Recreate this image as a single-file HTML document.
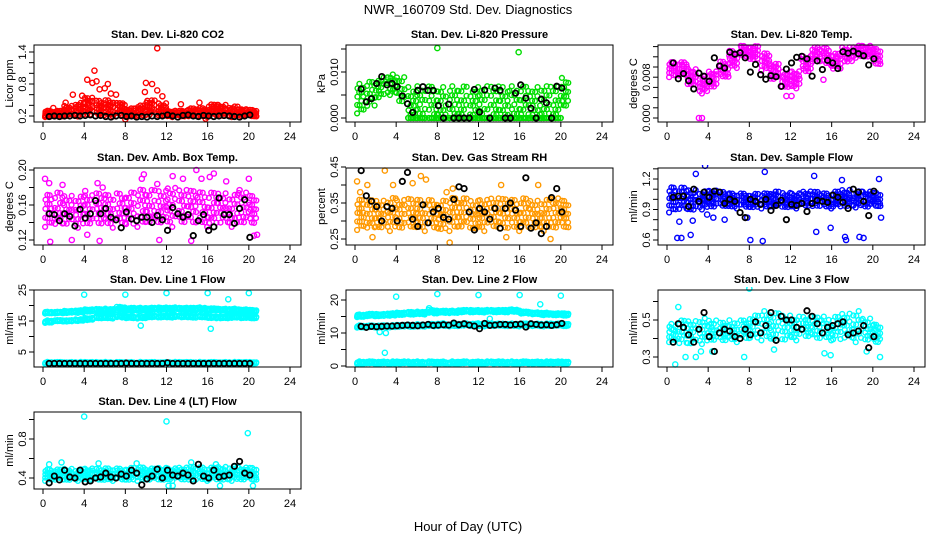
<!DOCTYPE html>
<html><head><meta charset="utf-8"><style>
html,body{margin:0;padding:0;background:#fff;}
svg{display:block;font-family:"Liberation Sans",sans-serif;}
</style></head><body>
<svg id="chart" width="936" height="540" viewBox="0 0 936 540">
<text x="468" y="14" text-anchor="middle" font-size="13">NWR_160709  Std. Dev. Diagnostics</text>
<text x="468" y="531" text-anchor="middle" font-size="13">Hour of Day (UTC)</text>
</svg>
<script>
// ---- data (hourly bins 0..20) ----
const hours = [0,1,2,3,4,5,6,7,8,9,10,11,12,13,14,15,16,17,18,19,20];
const blackHours = [0.6,1.1,1.6,2.1,2.6,3.1,3.6,4.1,4.6,5.1,5.6,6.1,6.6,7.1,7.6,8.1,8.6,9.1,9.6,10.1,10.6,11.1,11.6,12.1,12.6,13.1,13.6,14.1,14.6,15.1,15.6,16.1,16.6,17.1,17.6,18.1,18.6,19.1,19.6,20.1];

const co2Lo = [0.18,0.18,0.18,0.19,0.19,0.19,0.19,0.19,0.18,0.19,0.19,0.19,0.18,0.18,0.18,0.18,0.18,0.18,0.18,0.18,0.18];
const co2Hi = [0.30,0.30,0.40,0.45,0.55,0.50,0.50,0.45,0.35,0.40,0.50,0.45,0.30,0.30,0.35,0.35,0.42,0.42,0.38,0.33,0.32];
const co2OutX = [4.3,5.0,4.8,5.2,5.5,6.0,6.3,2.9,6.6,7.1,3.8,10.0,10.6,11.1,11.1,9.9,11.6,8.0,15.8,1.0,2.2,13.4,15.2];
const co2OutY = [0.88,1.05,0.82,0.85,0.70,0.72,0.80,0.60,0.62,0.60,0.58,0.82,0.80,0.68,1.47,0.65,0.57,0.14,0.15,0.35,0.45,0.42,0.45];
const co2Black = [0.19,0.20,0.19,0.20,0.20,0.21,0.20,0.21,0.22,0.20,0.21,0.19,0.18,0.20,0.21,0.19,0.20,0.18,0.19,0.18,0.20,0.19,0.20,0.22,0.20,0.18,0.21,0.22,0.20,0.19,0.21,0.20,0.19,0.20,0.21,0.20,0.19,0.18,0.20,0.22];

const presLo = [0.001,0.002,0.004,0.005,0.003,0.000,0.000,0.000,0.000,0.000,0.000,0.000,0.000,0.000,0.000,0.000,0.000,0.000,0.000,0.000,0.002];
const presHi = [0.0075,0.008,0.009,0.0095,0.009,0.007,0.007,0.007,0.007,0.007,0.007,0.007,0.007,0.007,0.007,0.007,0.007,0.007,0.007,0.007,0.009];
const presFloorLo = [null,null,null,null,null,0,0,0,0,0,0,0,0,0,0,0,0,0,0,0,null];
const presFloorHi = [null,null,null,null,null,0,0,0,0,0,0,0,0,0,0,0,0,0,0,0,null];
const presOutX = [8.0,15.9];
const presOutY = [0.0152,0.0143];
const presBlack = [0.0063,0.0035,0.0042,0.0075,0.009,0.0072,0.0075,0.0068,0.0048,0.0031,0.0012,0.006,0.0068,0.006,0.006,0.0027,0,0.003,0,0,0,0,0.0062,0.0013,0.0061,0,0.0065,0.006,0,0,0.0054,0.0072,0.0043,0.0021,0,0.0041,0.0033,0,0.0069,0.0065];

const tempLo = [0.0080,0.0080,0.0063,0.0048,0.0058,0.0078,0.0098,0.0118,0.0113,0.0093,0.0073,0.0058,0.0058,0.0088,0.0108,0.0103,0.0093,0.0108,0.0118,0.0118,0.0103];
const tempHi = [0.0110,0.0110,0.0097,0.0082,0.0092,0.0112,0.0132,0.0142,0.0142,0.0127,0.0107,0.0092,0.0092,0.0122,0.0140,0.0137,0.0127,0.0140,0.0142,0.0142,0.0137];
const tempOutX = [3.1,3.4,11.6,12.1,15.2];
const tempOutY = [0.0,0.0,0.0043,0.0043,0.0075];
const tempBlack = [0.0108,0.0077,0.0087,0.0073,0.0057,0.0088,0.0082,0.0072,0.0118,0.0102,0.0098,0.0129,0.0125,0.0128,0.0118,0.009,0.0105,0.0085,0.0076,0.0083,0.0081,0.0062,0.0096,0.0108,0.0119,0.0121,0.0116,0.0082,0.0112,0.0095,0.0113,0.0108,0.0097,0.013,0.0127,0.0131,0.0126,0.0122,0.0104,0.0116];

const ambLo = [0.135,0.134,0.135,0.134,0.135,0.135,0.134,0.135,0.134,0.135,0.136,0.136,0.135,0.136,0.136,0.135,0.135,0.136,0.135,0.136,0.136];
const ambHi = [0.172,0.175,0.172,0.170,0.172,0.175,0.172,0.174,0.176,0.178,0.178,0.178,0.180,0.178,0.178,0.175,0.175,0.175,0.172,0.175,0.172];
const ambOutX = [0.2,0.6,1.9,4.1,4.3,5.3,5.8,9.6,9.8,11.1,12.6,13.6,14.9,15.4,16.2,16.6,17.8,19.1,20.0,20.5,0.7,2.8,5.5,14.4,11.3,20.8];
const ambOutY = [0.19,0.185,0.183,0.176,0.126,0.185,0.18,0.19,0.195,0.184,0.193,0.19,0.2,0.19,0.192,0.196,0.187,0.177,0.19,0.125,0.118,0.12,0.119,0.119,0.12,0.126];
const ambBlack = [0.15,0.149,0.142,0.15,0.147,0.136,0.155,0.145,0.15,0.165,0.15,0.156,0.146,0.143,0.134,0.152,0.144,0.142,0.146,0.146,0.14,0.148,0.143,0.131,0.157,0.15,0.146,0.149,0.125,0.142,0.149,0.131,0.135,0.168,0.149,0.149,0.139,0.156,0.166,0.123];

const rhLo = [0.275,0.272,0.275,0.272,0.272,0.275,0.272,0.272,0.27,0.272,0.275,0.272,0.272,0.275,0.272,0.272,0.272,0.275,0.272,0.272,0.275];
const rhHi = [0.36,0.36,0.36,0.365,0.36,0.365,0.36,0.36,0.36,0.365,0.365,0.36,0.36,0.365,0.365,0.36,0.365,0.36,0.36,0.365,0.36];
const rhOutX = [0.2,0.5,2.9,3.7,5.6,6.4,6.9,9.2,14.2,17.8,1.7,9.5,14.7,19.0,1.2,8.9];
const rhOutY = [0.41,0.38,0.44,0.40,0.405,0.425,0.415,0.24,0.40,0.40,0.255,0.39,0.255,0.25,0.40,0.38];
const rhBlack = [0.44,0.37,0.355,0.34,0.3,0.34,0.335,0.3,0.41,0.435,0.305,0.285,0.345,0.295,0.325,0.335,0.31,0.305,0.36,0.395,0.39,0.325,0.275,0.335,0.325,0.305,0.335,0.28,0.335,0.35,0.33,0.285,0.42,0.28,0.295,0.265,0.285,0.365,0.39,0.325];

const flowLo = [0.87,0.88,0.88,0.90,0.91,0.92,0.91,0.91,0.91,0.91,0.91,0.91,0.91,0.92,0.92,0.91,0.91,0.92,0.92,0.91,0.92];
const flowHi = [1.12,1.12,1.10,1.08,1.09,1.08,1.06,1.06,1.06,1.06,1.08,1.07,1.06,1.08,1.08,1.06,1.08,1.10,1.08,1.08,1.07];
const flowOutX = [1.0,1.4,2.3,3.7,2.8,9.5,14.3,17.0,3.9,8.1,9.3,17.3,17.4,18.7,19.1,15.9,14.5,1.2,4.5,5.6,20.6,20.8,2.5,7.8];
const flowOutY = [0.62,0.62,0.65,1.33,1.25,1.27,1.23,1.19,0.85,0.60,0.59,0.63,0.60,0.63,0.62,0.72,0.68,0.78,0.82,0.80,1.20,0.82,0.79,0.82];
const flowBlack = [1.02,1.03,1.03,0.93,1.1,0.98,1.07,1.02,1.08,1.07,0.96,1.0,0.98,0.87,0.82,1.0,0.98,0.95,1.0,0.89,0.94,0.99,0.8,0.95,0.94,0.96,0.88,0.96,0.99,0.98,0.97,1.04,1.02,0.97,0.91,1.1,1.07,0.98,0.84,1.08];

const l1UpLo = [17.4,17.4,17.5,17.6,17.9,18.0,18.0,18.2,18.2,18.3,18.3,18.4,18.4,18.4,18.3,18.4,18.2,18.1,18.0,17.9,17.8];
const l1UpHi = [18.0,18.0,18.3,18.5,18.8,18.9,19.0,19.6,19.3,19.3,19.3,19.4,19.4,19.3,19.3,19.4,19.1,19.0,19.0,18.8,18.6];
const l1MidLo = [14.4,14.8,14.8,15.0,15.2,15.8,15.8,16.0,15.8,15.8,16.0,16.1,16.1,16.1,16.0,16.1,15.8,15.8,16.0,15.8,15.8];
const l1MidHi = [15.2,15.3,15.3,15.6,16.0,16.6,16.6,17.0,16.7,16.7,16.8,16.8,16.8,16.8,16.8,16.8,16.5,16.5,16.6,16.6,16.5];
const l1BotLo = [1.2,1.2,1.2,1.2,1.2,1.2,1.2,1.2,1.2,1.2,1.2,1.2,1.2,1.2,1.2,1.2,1.2,1.2,1.2,1.2,1.2];
const l1BotHi = [1.8,1.8,1.8,1.8,1.8,1.8,1.8,1.8,1.8,1.8,1.8,1.8,1.8,1.8,1.8,1.8,1.8,1.8,1.8,1.8,1.8];
const l1OutX = [4.0,8.0,12.0,16.0,20.0,18.0,9.5,16.3];
const l1OutY = [23.5,23.5,24.0,24.0,24.0,22.0,13.5,12.5];
const l1Black = [1.3,1.3,1.3,1.3,1.3,1.3,1.3,1.3,1.3,1.3,1.3,1.3,1.3,1.3,1.3,1.4,1.3,1.3,1.3,1.3,1.3,1.3,1.3,1.5,1.3,1.3,1.3,1.3,1.3,1.3,1.3,1.3,1.3,1.3,1.3,1.3,1.3,1.3,1.3,1.3];

const l2UpLo = [14.8,15.0,15.0,15.2,15.4,15.5,15.6,15.8,16.0,16.0,16.2,16.2,16.2,16.2,16.2,16.3,15.8,15.6,15.4,15.3,15.2];
const l2UpHi = [15.6,15.8,15.8,16.0,16.2,16.4,16.5,17.0,16.8,16.8,17.0,17.0,17.0,17.0,17.0,17.2,16.5,16.3,16.2,16.0,16.0];
const l2MidLo = [11.6,11.6,11.6,11.7,11.8,11.8,11.9,11.9,12.0,12.0,12.0,12.0,12.0,12.0,12.0,12.0,12.0,12.0,12.0,12.0,12.0];
const l2MidHi = [12.3,12.3,12.4,12.4,12.5,12.6,12.7,12.8,13.0,12.8,12.9,13.0,12.9,12.9,12.9,12.9,12.9,12.9,12.9,12.9,12.9];
const l2BotLo = [0.6,0.6,0.6,0.6,0.6,0.6,0.6,0.6,0.6,0.6,0.6,0.6,0.6,0.6,0.6,0.6,0.6,0.6,0.6,0.6,0.6];
const l2BotHi = [1.4,1.4,1.4,1.4,1.4,1.4,1.4,1.4,1.4,1.4,1.4,1.4,1.4,1.4,1.4,1.4,1.4,1.4,1.4,1.4,1.4];
const l2OutX = [4.0,8.0,12.0,16.0,20.0,18.0,2.9,2.4,3.0,13.1,7.2];
const l2OutY = [21.0,21.8,21.5,21.5,21.3,18.7,4.0,10.3,10.0,14.3,17.5];
const l2Black = [12,11.7,12,11.9,12,12.1,12.1,12.2,12.3,12.4,12.3,12.2,12.4,12.6,12.3,12.4,12.5,12.4,13,12.5,12.8,12.4,12.1,11.3,12.9,12.3,12.4,12.6,12.6,12.4,12.6,12.7,11.8,12.8,12.6,12.4,12.5,12.3,12.5,12.9];

const l3Lo = [0.38,0.36,0.36,0.37,0.38,0.38,0.38,0.39,0.39,0.39,0.38,0.38,0.39,0.40,0.39,0.39,0.38,0.39,0.38,0.38,0.37];
const l3Hi = [0.48,0.50,0.50,0.51,0.50,0.49,0.50,0.50,0.53,0.55,0.54,0.53,0.52,0.52,0.52,0.52,0.52,0.54,0.55,0.51,0.48];
const l3OutX = [0.8,1.8,2.8,3.3,7.5,8.0,1.1,15.3,15.9,19.4,20.7,4.4,10.4];
const l3OutY = [0.26,0.30,0.30,0.33,0.30,0.67,0.57,0.32,0.31,0.33,0.30,0.33,0.34];
const l3Black = [0.38,0.48,0.46,0.42,0.38,0.45,0.54,0.41,0.33,0.43,0.45,0.44,0.41,0.4,0.45,0.42,0.49,0.43,0.47,0.54,0.39,0.52,0.5,0.5,0.46,0.45,0.55,0.52,0.48,0.43,0.46,0.47,0.48,0.49,0.42,0.43,0.44,0.47,0.35,0.41];

const l4Lo = [0.37,0.37,0.37,0.37,0.37,0.37,0.37,0.37,0.37,0.37,0.37,0.37,0.37,0.37,0.37,0.37,0.37,0.37,0.37,0.37,0.37];
const l4Hi = [0.49,0.49,0.50,0.49,0.50,0.50,0.50,0.50,0.51,0.51,0.50,0.51,0.50,0.51,0.52,0.51,0.51,0.52,0.52,0.51,0.51];
const l4OutX = [4.0,12.0,19.9,1.8,5.4,9.1,14.4,0.6,12.2,12.6,17.2,20.4,16.8];
const l4OutY = [1.03,0.98,0.86,0.56,0.55,0.55,0.56,0.54,0.32,0.32,0.32,0.32,0.54];
const l4Black = [0.35,0.42,0.38,0.48,0.41,0.4,0.48,0.36,0.37,0.4,0.41,0.45,0.41,0.4,0.44,0.42,0.48,0.45,0.33,0.39,0.42,0.49,0.4,0.48,0.43,0.42,0.45,0.43,0.37,0.54,0.42,0.4,0.48,0.41,0.42,0.43,0.52,0.57,0.45,0.43];

// tick values
const xTicks = [0,4,8,12,16,20,24];
const co2Ticks = [0.2,0.4,0.6,0.8,1.0,1.2,1.4];
const co2Labels = [0.2,0.8,1.4];
const presTicks = [0,0.005,0.01,0.015];
const presLabels = [0,0.01];
const tempTicks = [0,0.002,0.004,0.006,0.008,0.010,0.012,0.014];
const tempLabels = [0,0.008];
const ambTicks = [0.12,0.14,0.16,0.18,0.20];
const ambLabels = [0.12,0.16,0.20];
const rhTicks = [0.25,0.30,0.35,0.40,0.45];
const rhLabels = [0.25,0.35,0.45];
const flowTicks = [0.6,0.7,0.8,0.9,1.0,1.1,1.2,1.3];
const flowLabels = [0.6,0.9,1.2];
const l1Ticks = [5,10,15,20,25];
const l1Labels = [5,15,25];
const l2Ticks = [0,5,10,15,20];
const l2Labels = [0,10,20];
const l3Ticks = [0.3,0.4,0.5,0.6];
const l3Labels = [0.3,0.5];
const l4Ticks = [0.4,0.6,0.8,1.0];
const l4Labels = [0.4,0.8];

// ---- layout ----
const NS = "http://www.w3.org/2000/svg";
const svg = document.getElementById('chart');
const rowTop = [45,168,290,412];
const BOXH = 77;
function mk(tag, attrs, parent){const e=document.createElementNS(NS,tag);for(const k in attrs)e.setAttribute(k,attrs[k]);(parent||svg).appendChild(e);return e;}

const panels = [
 {key:'co2',title:'Stan. Dev. Li-820 CO2',ylab:'Licor ppm',col:0,row:0,color:'#ff0000',a:[0.2,116],b:[1.4,52],ticks:co2Ticks,labels:co2Labels,fmt:v=>v.toFixed(1),bands:[[co2Lo,co2Hi,18]],outX:co2OutX,outY:co2OutY,black:co2Black},
 {key:'pressure',title:'Stan. Dev. Li-820 Pressure',ylab:'kPa',col:1,row:0,color:'#00dd00',a:[0,118],b:[0.01,72],ticks:presTicks,labels:presLabels,fmt:v=>v.toFixed(3),bands:[[presLo,presHi,13],[presFloorLo,presFloorHi,10]],outX:presOutX,outY:presOutY,black:presBlack},
 {key:'temp',title:'Stan. Dev. Li-820 Temp.',ylab:'degrees C',col:2,row:0,color:'#ff00ff',a:[0,118],b:[0.008,77.2],ticks:tempTicks,labels:tempLabels,fmt:v=>v.toFixed(3),bands:[[tempLo,tempHi,16]],outX:tempOutX,outY:tempOutY,black:tempBlack},
 {key:'ambbox',title:'Stan. Dev. Amb. Box Temp.',ylab:'degrees C',col:0,row:1,color:'#ff00ff',a:[0.12,240],b:[0.20,170],ticks:ambTicks,labels:ambLabels,fmt:v=>v.toFixed(2),bands:[[ambLo,ambHi,15]],outX:ambOutX,outY:ambOutY,black:ambBlack},
 {key:'rh',title:'Stan. Dev. Gas Stream RH',ylab:'percent',col:1,row:1,color:'#ff9900',a:[0.25,239],b:[0.45,167],ticks:rhTicks,labels:rhLabels,fmt:v=>v.toFixed(2),bands:[[rhLo,rhHi,16]],outX:rhOutX,outY:rhOutY,black:rhBlack},
 {key:'sampleflow',title:'Stan. Dev. Sample Flow',ylab:'ml/min',col:2,row:1,color:'#0000ff',a:[0.6,240],b:[1.2,179],ticks:flowTicks,labels:flowLabels,fmt:v=>v.toFixed(1),bands:[[flowLo,flowHi,16]],outX:flowOutX,outY:flowOutY,black:flowBlack},
 {key:'line1',title:'Stan. Dev. Line 1 Flow',ylab:'ml/min',col:0,row:2,color:'#00ffff',a:[25,290],b:[5,352],ticks:l1Ticks,labels:l1Labels,fmt:v=>String(v),bands:[[l1UpLo,l1UpHi,14],[l1MidLo,l1MidHi,12],[l1BotLo,l1BotHi,12]],outX:l1OutX,outY:l1OutY,black:l1Black},
 {key:'line2',title:'Stan. Dev. Line 2 Flow',ylab:'ml/min',col:1,row:2,color:'#00ffff',a:[0,366],b:[20,300],ticks:l2Ticks,labels:l2Labels,fmt:v=>String(v),bands:[[l2UpLo,l2UpHi,14],[l2MidLo,l2MidHi,12],[l2BotLo,l2BotHi,12]],outX:l2OutX,outY:l2OutY,black:l2Black},
 {key:'line3',title:'Stan. Dev. Line 3 Flow',ylab:'ml/min',col:2,row:2,color:'#00ffff',a:[0.3,357],b:[0.5,320],ticks:l3Ticks,labels:l3Labels,fmt:v=>v.toFixed(1),bands:[[l3Lo,l3Hi,14]],outX:l3OutX,outY:l3OutY,black:l3Black},
 {key:'line4',title:'Stan. Dev. Line 4 (LT) Flow',ylab:'ml/min',col:0,row:3,color:'#00ffff',a:[0.4,478],b:[0.8,439],ticks:l4Ticks,labels:l4Labels,fmt:v=>v.toFixed(1),bands:[[l4Lo,l4Hi,16]],outX:l4OutX,outY:l4OutY,black:l4Black}
];

panels.forEach(p=>{
  const off = p.col*312;
  const boxL = 34+off, boxR = 301+off, top = rowTop[p.row], bot = top+BOXH;
  const xs = h => 43+off + h*(247/24);
  const ys = v => p.a[1] + (v-p.a[0])*(p.b[1]-p.a[1])/(p.b[0]-p.a[0]);
  const g = mk('g',{});
  
  
  const clipId='clip-'+p.key;
  const cp=mk('clipPath',{id:clipId},g); mk('rect',{x:boxL,y:top-3,width:boxR-boxL,height:BOXH+6},cp);
  const t = mk('text',{x:(boxL+boxR)/2,y:top-7,'text-anchor':'middle','font-size':'11','font-weight':'bold'},g);
  t.textContent=p.title;
  
  
  const yl = mk('text',{x:0,y:0,transform:`translate(${boxL-21},${(top+bot)/2}) rotate(-90)`,'text-anchor':'middle','font-size':'11'},g);
  yl.textContent=p.ylab;
  
  
  const pts = mk('g',{'clip-path':`url(#${clipId})`,fill:'none','stroke-width':'1.4'},g);
  
  
  p.bands.forEach(([lo,hi,n])=>{
    hours.forEach((h,i)=>{
      if(lo[i]===null||lo[i]===undefined) return;
      const h0 = h===0?0.2:h, h1 = h===20?20.8:h+1;
      for(let k=0;k<n;k++){
        const fx=((k*0.7548777+0.13*i)%1), fy=((k*0.5698403+0.27*(i%3))%1);
        const v = lo[i]+(hi[i]-lo[i])*fy;
        const c = mk('circle',{cx:xs(h0+(h1-h0)*fx).toFixed(1),cy:ys(v).toFixed(1),r:2.4,stroke:p.color},pts);
        
        
      }
    });
  });
  p.outX.forEach((x,i)=>{
    const c = mk('circle',{cx:xs(x),cy:ys(p.outY[i]),r:2.6,stroke:p.color},pts);
    
    
  });
  p.black.forEach((v,i)=>{
    const c = mk('circle',{cx:xs(blackHours[i]),cy:ys(v),r:2.7,stroke:'#000','stroke-width':'1.8'},pts);
    
    
  });
  const box = mk('rect',{x:boxL,y:top,width:boxR-boxL,height:BOXH,fill:'none',stroke:'#000','stroke-width':'1'},g);
  
  
  const xa = mk('g',{},g);
  
  
  xTicks.forEach(v=>{
    mk('line',{x1:xs(v),x2:xs(v),y1:bot,y2:bot+5,stroke:'#000'},xa);
    const tl = mk('text',{x:xs(v),y:bot+18,'text-anchor':'middle','font-size':'11'},xa);
    tl.textContent=String(v);
  });
  const ya = mk('g',{},g);
  
  
  p.ticks.forEach(v=>{
    const y=ys(v); if(y<top-1||y>bot+1) return;
    mk('line',{x1:boxL-5,x2:boxL,y1:y,y2:y,stroke:'#000'},ya);
  });
  p.labels.forEach(v=>{
    const tl = mk('text',{x:0,y:0,transform:`translate(${boxL-8},${ys(v)}) rotate(-90)`,'text-anchor':'middle','font-size':'11'},ya);
    tl.textContent=p.fmt(v);
  });
});
</script>
</body></html>
